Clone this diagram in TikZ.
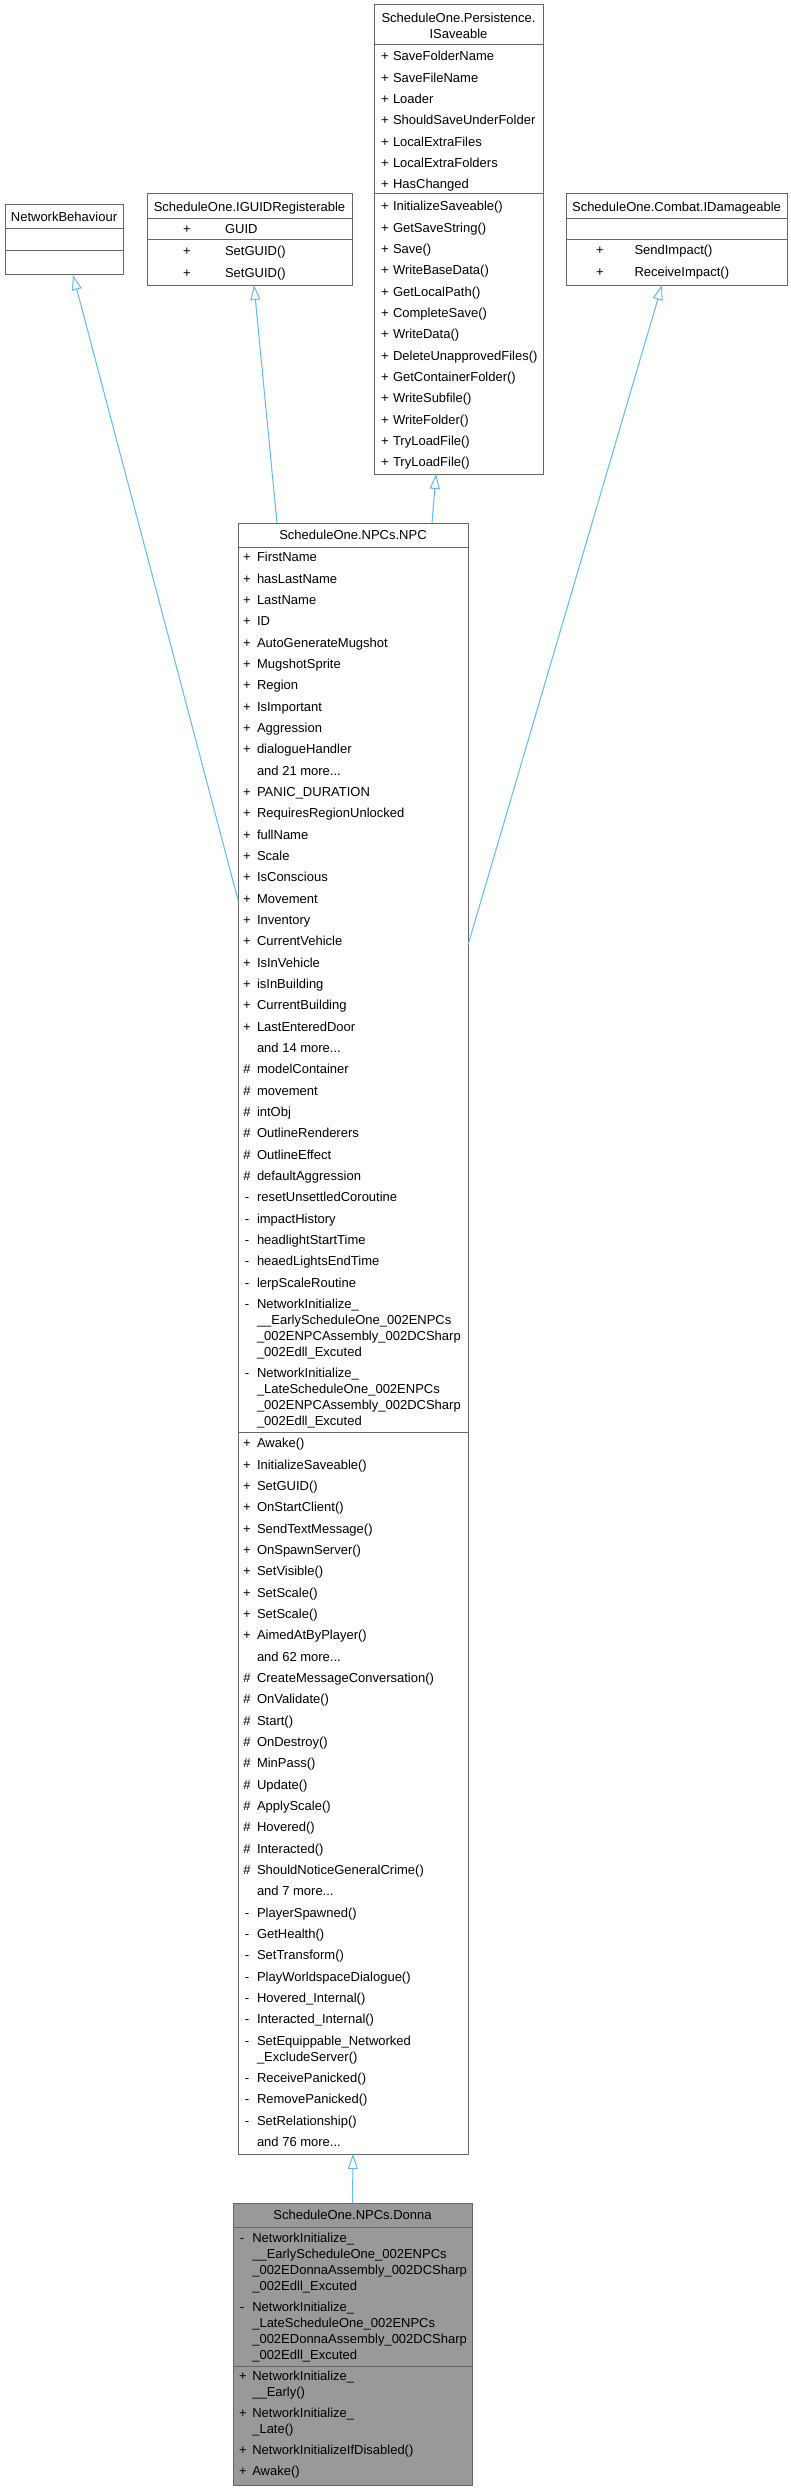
\documentclass[tikz,border=0pt]{standalone}
\usepackage{fontspec}
\setmainfont{Liberation Sans}
\usetikzlibrary{arrows.meta}
\definecolor{edgeblue}{HTML}{63B8FF}
\definecolor{bord}{HTML}{666666}
\definecolor{curcls}{HTML}{999999}
\newcommand\classrows[5]{%
  \foreach \s/\t [count=\i from 0] in {#5}{%
    \pgfmathsetmacro\yy{#4+21.333*\i}%
    \node[sym] (#1s\i) at (#2,\yy) {\s};
    \node[txt] (#1t\i) at (#3,\yy) {\t};
  }%
}
\newcommand\wraprow[6]{%
  \node[sym] (#1s) at (#2,#4) {#5};
  \foreach \t [count=\i from 0] in {#6}{%
    \pgfmathsetmacro\yy{#4+16*\i}%
    \node[txt] (#1t\i) at (#3,\yy) {\t};
  }%
}
\begin{document}
\begin{tikzpicture}[x=1pt,y=-1pt,
  cls/.style={draw=bord, line width=1pt, fill=white, anchor=north west, inner sep=0pt, outer sep=0pt},
  txt/.style={inner sep=0pt, outer sep=0pt, anchor=west, text height=9.4pt, text depth=0pt, font=\fontsize{13}{16}\selectfont},
  sym/.style={txt, anchor=center},
  ttl/.style={txt, anchor=center},
  div/.style={draw=bord, line width=1pt},
  inh/.style={draw=edgeblue, line width=1pt, -{Triangle[length=15pt,width=10pt,fill=white]}},
]
\fill[white] (0,0) rectangle (791,2491);
\useasboundingbox (0,0) rectangle (791,2491);

% ---------- boxes ----------
\node[cls, minimum width=118pt, minimum height=70pt] (nb) at (5,205) {};
\node[cls, minimum width=205pt, minimum height=91pt] (ig) at (147,194) {};
\node[cls, minimum width=169pt, minimum height=469pt] (sv) at (374,5) {};
\node[cls, minimum width=221pt, minimum height=91pt] (dm) at (566,194) {};
\node[cls, minimum width=230pt, minimum height=1631pt] (npc) at (238,523) {};
\node[cls, fill=curcls, minimum width=239pt, minimum height=282pt] (donna) at (233,2203) {};

% ---------- dividers ----------
\draw[div] (nb.west |- 0,229) -- (nb.east |- 0,229);
\draw[div] (nb.west |- 0,251) -- (nb.east |- 0,251);
\draw[div] (ig.west |- 0,219) -- (ig.east |- 0,219);
\draw[div] (ig.west |- 0,240) -- (ig.east |- 0,240);
\draw[div] (sv.west |- 0,45) -- (sv.east |- 0,45);
\draw[div] (sv.west |- 0,194) -- (sv.east |- 0,194);
\draw[div] (dm.west |- 0,219) -- (dm.east |- 0,219);
\draw[div] (dm.west |- 0,240) -- (dm.east |- 0,240);
\draw[div] (npc.west |- 0,547) -- (npc.east |- 0,547);
\draw[div] (npc.west |- 0,1432) -- (npc.east |- 0,1432);
\draw[div] (donna.west |- 0,2227) -- (donna.east |- 0,2227);
\draw[div] (donna.west |- 0,2366) -- (donna.east |- 0,2366);

% ---------- titles ----------
\node[ttl] (nbtitle) at (64,217) {NetworkBehaviour};
\node[ttl] (igtitle) at (249.5,207) {ScheduleOne.IGUIDRegisterable};
\node[ttl] (svtitle1) at (458.5,18) {ScheduleOne.Persistence.};
\node[ttl] (svtitle2) at (458.5,34) {ISaveable};
\node[ttl] (dmtitle) at (676.5,207) {ScheduleOne.Combat.IDamageable};
\node[ttl] (npctitle) at (353,535) {ScheduleOne.NPCs.NPC};
\node[ttl] (donnatitle) at (352.5,2215) {ScheduleOne.NPCs.Donna};

% ---------- IGUIDRegisterable ----------
\classrows{iga}{187}{225}{229}{+/GUID}
\classrows{igm}{187}{225}{251}{+/SetGUID(), +/SetGUID()}

% ---------- ISaveable ----------
\classrows{sva}{385}{393}{56}{+/SaveFolderName, +/SaveFileName, +/Loader, +/ShouldSaveUnderFolder, +/LocalExtraFiles, +/LocalExtraFolders, +/HasChanged}
\classrows{svm}{385}{393}{206}{+/InitializeSaveable(), +/GetSaveString(), +/Save(), +/WriteBaseData(), +/GetLocalPath(), +/CompleteSave(), +/WriteData(), +/DeleteUnapprovedFiles(), +/GetContainerFolder(), +/WriteSubfile(), +/WriteFolder(), +/TryLoadFile(), +/TryLoadFile()}

% ---------- IDamageable ----------
\classrows{dmm}{600}{634.5}{250}{+/SendImpact(), +/ReceiveImpact()}

% ---------- NPC ----------
\classrows{npca}{247}{257}{557}{+/FirstName, +/hasLastName, +/LastName, +/ID, +/AutoGenerateMugshot, +/MugshotSprite, +/Region, +/IsImportant, +/Aggression, +/dialogueHandler, {}/{and 21 more...}, +/PANIC\_DURATION, +/RequiresRegionUnlocked, +/fullName, +/Scale, +/IsConscious, +/Movement, +/Inventory, +/CurrentVehicle, +/IsInVehicle, +/isInBuilding, +/CurrentBuilding, +/LastEnteredDoor, {}/{and 14 more...}, \#/modelContainer, \#/movement, \#/intObj, \#/OutlineRenderers, \#/OutlineEffect, \#/defaultAggression, -/resetUnsettledCoroutine, -/impactHistory, -/headlightStartTime, -/heaedLightsEndTime, -/lerpScaleRoutine}
\wraprow{npcni1}{247}{257}{1303.7}{-}{NetworkInitialize\_, \_\_EarlyScheduleOne\_002ENPCs, \_002ENPCAssembly\_002DCSharp, \_002Edll\_Excuted}
\wraprow{npcni2}{247}{257}{1373}{-}{NetworkInitialize\_, \_LateScheduleOne\_002ENPCs, \_002ENPCAssembly\_002DCSharp, \_002Edll\_Excuted}
\classrows{npcm}{247}{257}{1443}{+/Awake(), +/InitializeSaveable(), +/SetGUID(), +/OnStartClient(), +/SendTextMessage(), +/OnSpawnServer(), +/SetVisible(), +/SetScale(), +/SetScale(), +/AimedAtByPlayer(), {}/{and 62 more...}, \#/CreateMessageConversation(), \#/OnValidate(), \#/Start(), \#/OnDestroy(), \#/MinPass(), \#/Update(), \#/ApplyScale(), \#/Hovered(), \#/Interacted(), \#/ShouldNoticeGeneralCrime(), {}/{and 7 more...}, -/PlayerSpawned(), -/GetHealth(), -/SetTransform(), -/PlayWorldspaceDialogue(), -/Hovered\_Internal(), -/Interacted\_Internal()}
\wraprow{npcse}{247}{257}{2040.3}{-}{SetEquippable\_Networked, \_ExcludeServer()}
\classrows{npcn}{247}{257}{2077.7}{-/ReceivePanicked(), -/RemovePanicked(), -/SetRelationship(), {}/{and 76 more...}}

% ---------- Donna ----------
\wraprow{dnni1}{242}{252.3}{2238}{-}{NetworkInitialize\_, \_\_EarlyScheduleOne\_002ENPCs, \_002EDonnaAssembly\_002DCSharp, \_002Edll\_Excuted}
\wraprow{dnni2}{242}{252.3}{2307}{-}{NetworkInitialize\_, \_LateScheduleOne\_002ENPCs, \_002EDonnaAssembly\_002DCSharp, \_002Edll\_Excuted}
\wraprow{dnm1}{243}{252.3}{2376}{+}{NetworkInitialize\_, \_\_Early()}
\wraprow{dnm2}{243}{252.3}{2413}{+}{NetworkInitialize\_, \_Late()}
\wraprow{dnm3}{243}{252.3}{2450}{+}{NetworkInitializeIfDisabled()}
\wraprow{dnm4}{243}{252.3}{2471}{+}{Awake()}

% ---------- inheritance connectors ----------
\coordinate (nbtip) at ([shift={(9,0)}]nb.south);
\coordinate (npcfromnb) at ([shift={(0,377)}]npc.north west);
\coordinate (igtip) at ([shift={(4.5,0)}]ig.south);
\coordinate (npcfromig) at ([shift={(39,0)}]npc.north west);
\coordinate (svtip) at ([shift={(-22.5,0)}]sv.south);
\coordinate (npcfromsv) at ([shift={(194,0)}]npc.north west);
\coordinate (dmtip) at ([shift={(-14.5,0)}]dm.south);
\coordinate (npcfromdm) at ([shift={(0,422)}]npc.north east);

\draw[inh] (npcfromnb) -- (nbtip);
\draw[inh] (npcfromig) -- (igtip);
\draw[inh] (npcfromsv) -- (svtip);
\draw[inh] (npcfromdm) -- (dmtip);
\draw[inh] (donna.north) -- (npc.south);
\end{tikzpicture}
\end{document}
